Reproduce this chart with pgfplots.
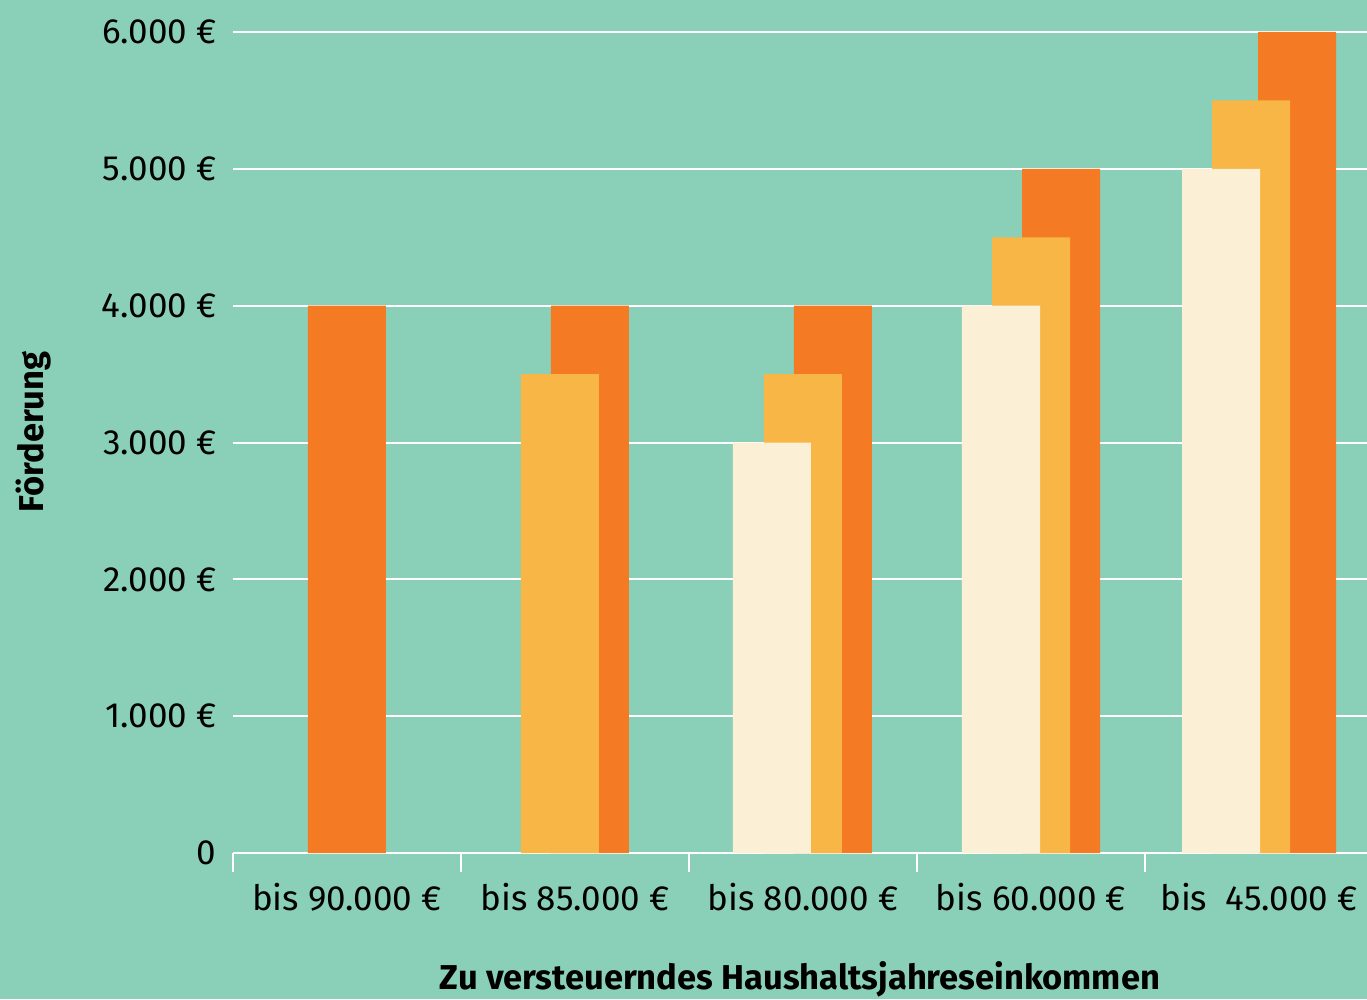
\documentclass[border=0pt]{standalone}
\usepackage{fontspec}
\setmainfont{Fira Sans}
\usepackage{pgfplots}
\pgfplotsset{compat=1.18}
\definecolor{bg}{HTML}{8ACFB8}
\definecolor{dorange}{HTML}{F47A23}
\definecolor{lorange}{HTML}{F7B646}
\definecolor{cream}{HTML}{FBEFD5}
\begin{document}
\fontsize{14}{17}\selectfont
\begin{tikzpicture}
\fill[bg] (-93.2pt,-58.4pt) rectangle (453.6pt,341.2pt);
\begin{axis}[
  scale only axis,
  width=453.6pt, height=328.4pt,
  at={(0,0)}, anchor=south west,
  xmin=233, xmax=1367, ymin=0, ymax=6000,
  clip=false,
  axis line style={draw=none},
  ymajorgrids, grid style={white, line width=0.8pt},
  ytick={0,1000,2000,3000,4000,5000,6000},
  yticklabels={0,1.000 €,2.000 €,3.000 €,4.000 €,5.000 €,6.000 €},
  ytick style={draw=none},
  yticklabel style={anchor=east, inner sep=0pt, xshift=1.2pt},
  tick align=outside,
  major tick length=7.6pt,
  xtick={233,461,689,917,1145},
  xticklabels={},
  xtick style={white, line width=0.7pt},
  extra x ticks={347,575,803,1031,1259},
  extra x tick labels={bis 90.000 €,bis 85.000 €,bis 80.000 €,bis 60.000 €,bis\ \ 45.000 €},
  extra x tick style={major tick length=0pt, xticklabel style={anchor=base, inner sep=0pt, yshift=-22.8pt}},
  xtick pos=bottom, ytick pos=left,
  every axis x label/.style={at={(axis description cs:0.5,-0.1657)}, anchor=base, font=\fontsize{13.8}{16}\selectfont\bfseries},
  every axis y label/.style={at={(axis description cs:-0.1667,0.513)}, rotate=90, anchor=base, font=\fontsize{13.8}{16}\selectfont\bfseries},
  xlabel={Zu versteuerndes Haushaltsjahreseinkommen},
  ylabel={Förderung},
]
\addplot[ybar, bar width=78, bar shift=0pt, fill=dorange, draw=none]
  coordinates {(347,4000) (590,4000) (833,4000) (1061,5000) (1297,6000)};
\addplot[ybar, bar width=78, bar shift=0pt, fill=lorange, draw=none]
  coordinates {(560,3500) (803,3500) (1031,4500) (1251,5500)};
\addplot[ybar, bar width=78, bar shift=0pt, fill=cream, draw=none]
  coordinates {(772,3000) (1001,4000) (1221,5000)};
\end{axis}
\pgfresetboundingbox
\useasboundingbox (-93.2pt,-58.4pt) rectangle (453.6pt,341.2pt);
\end{tikzpicture}
\end{document}
